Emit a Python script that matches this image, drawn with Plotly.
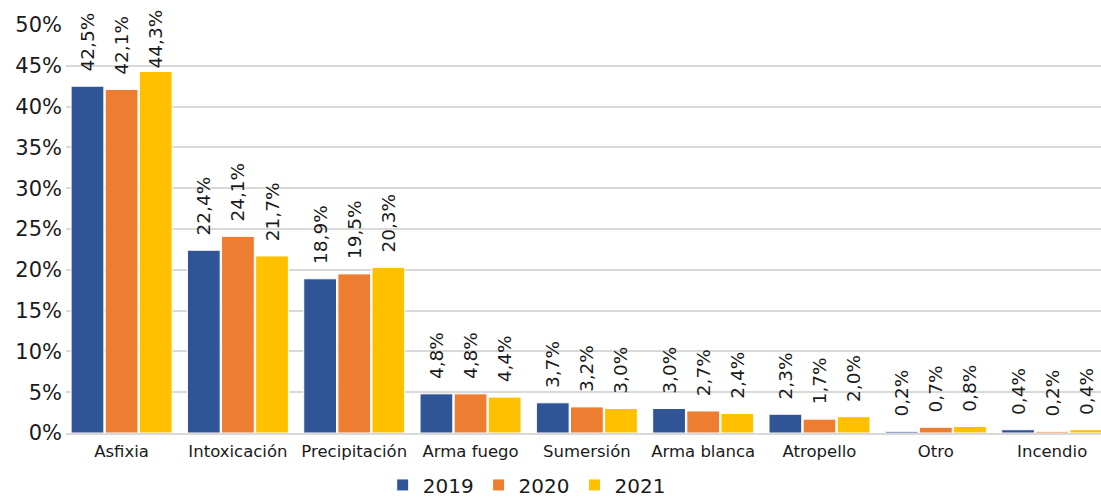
import plotly.graph_objects as go

categories = ["Asfixia", "Intoxicación", "Precipitación", "Arma fuego", "Sumersión",
              "Arma blanca", "Atropello", "Otro", "Incendio"]
years = ["2019", "2020", "2021"]
v2019 = [42.5, 22.4, 18.9, 4.8, 3.7, 3.0, 2.3, 0.2, 0.4]
v2020 = [42.1, 24.1, 19.5, 4.8, 3.2, 2.7, 1.7, 0.7, 0.2]
v2021 = [44.3, 21.7, 20.3, 4.4, 3.0, 2.4, 2.0, 0.8, 0.4]
colors = ["#2F5597", "#ED7D31", "#FFC000"]
ytick_vals = [0, 5, 10, 15, 20, 25, 30, 35, 40, 45, 50]
ytick_text = [f"{v}%" for v in ytick_vals]

FONT = "DejaVu Sans, sans-serif"
NB = "\u00a0"


def label(v):
    # labels near the top of the chart area sit tight on the bar (as in the source)
    pad = "" if v > 43 else NB * 2
    return pad + f"{v:.1f}".replace(".", ",") + "%"


fig = go.Figure()
for name, vals, col in zip(years, [v2019, v2020, v2021], colors):
    fig.add_trace(go.Bar(
        x=categories, y=vals, name=name,
        marker=dict(color=col, line=dict(color="white", width=1)),
        text=[label(v) for v in vals], texttemplate="%{text}", textposition="outside",
        textangle=-90, cliponaxis=False, constraintext="none",
        textfont=dict(family=FONT, size=18.5, color="#1a1a1a"),
    ))

fig.update_layout(
    width=1101, height=502,
    margin=dict(l=66, r=0, t=25, b=69),
    barmode="group", bargap=0.12, bargroupgap=0.04,
    separators=",.",
    plot_bgcolor="white", paper_bgcolor="white",
    font=dict(family=FONT, size=17, color="#1a1a1a"),
    legend=dict(orientation="h", x=0.306, xanchor="left",
                yref="container", y=0.034, yanchor="middle",
                font=dict(size=20), itemwidth=30, traceorder="normal"),
    xaxis=dict(showline=True, linecolor="#D9D9D9", linewidth=2, ticks="",
               tickfont=dict(size=16.5), range=[-0.478, 8.42], automargin=False,
               ticklabelstandoff=2),
    yaxis=dict(range=[0, 50], tickmode="array", tickvals=ytick_vals, ticktext=ytick_text,
               showgrid=True, gridcolor="#D9D9D9", gridwidth=1.5, zeroline=False,
               tickfont=dict(size=21), automargin=False, ticklabelstandoff=3),
)

fig.write_html("out.html", config={"displayModeBar": False},
               post_script="document.body.style.margin='0';document.body.style.padding='0';"
                           "document.documentElement.style.overflow='hidden';")
